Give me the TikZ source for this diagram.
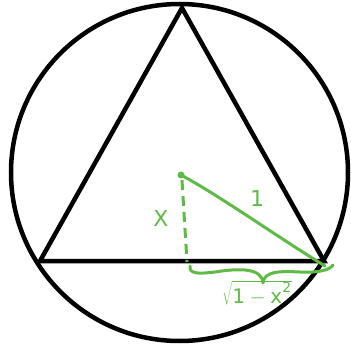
\documentclass[tikz,border=0pt]{standalone}
\usepackage{fontspec}
\setsansfont{DejaVu Sans}
\definecolor{pen}{HTML}{5DBB46}
\begin{document}
\begin{tikzpicture}[x=1pt,y=-1pt,
  black line/.style={line width=4.5pt,line join=miter},
  greenline/.style={draw=pen,line width=3pt,line cap=round,line join=round},
  greenlabel/.style={text=pen,font=\sffamily\fontsize{22}{22}\selectfont,inner sep=0pt}]
\useasboundingbox (0,0) rectangle (351,345);
\node[circle,draw,line width=4.5pt,minimum size=337pt,inner sep=0pt] (circ) at (179.5,172.5) {};
\coordinate (A) at (182,8);
\coordinate (B) at (40,261);
\coordinate (C) at (324,261);
\draw[black line] (A) -- (B) -- (C) -- cycle;
\coordinate (O) at (181,175);
\coordinate (F) at (187,262);
\coordinate (E) at (325,266);
\fill[pen] (O) circle (3.5pt);
\draw[greenline] (O) .. controls (220,196) and (270,232) .. (E);
\draw[greenline,dash pattern=on 10pt off 6pt,line cap=butt] (182,180) -- (F);
\coordinate (b1) at (190,266);
\coordinate (bt) at (263,283);
\coordinate (b2) at (333,265);
\draw[greenline] (b1) .. controls (189,274) and (198,274) .. (215,272)
  .. controls (240,268) and (262,268) .. (bt)
  .. controls (264,271) and (280,271) .. (300,272)
  .. controls (318,273) and (330,270) .. (b2);
\node[greenlabel] (xl) at (161,218) {X};
\node[greenlabel] (one) at (257,198) {1};
\node[text=pen,inner sep=0pt,font=\sffamily\fontsize{20}{20}\selectfont] (sq) at (257,293) {$\sqrt{\mathsf{1-x}^{\mathsf{2}}}$};
\end{tikzpicture}
\end{document}
